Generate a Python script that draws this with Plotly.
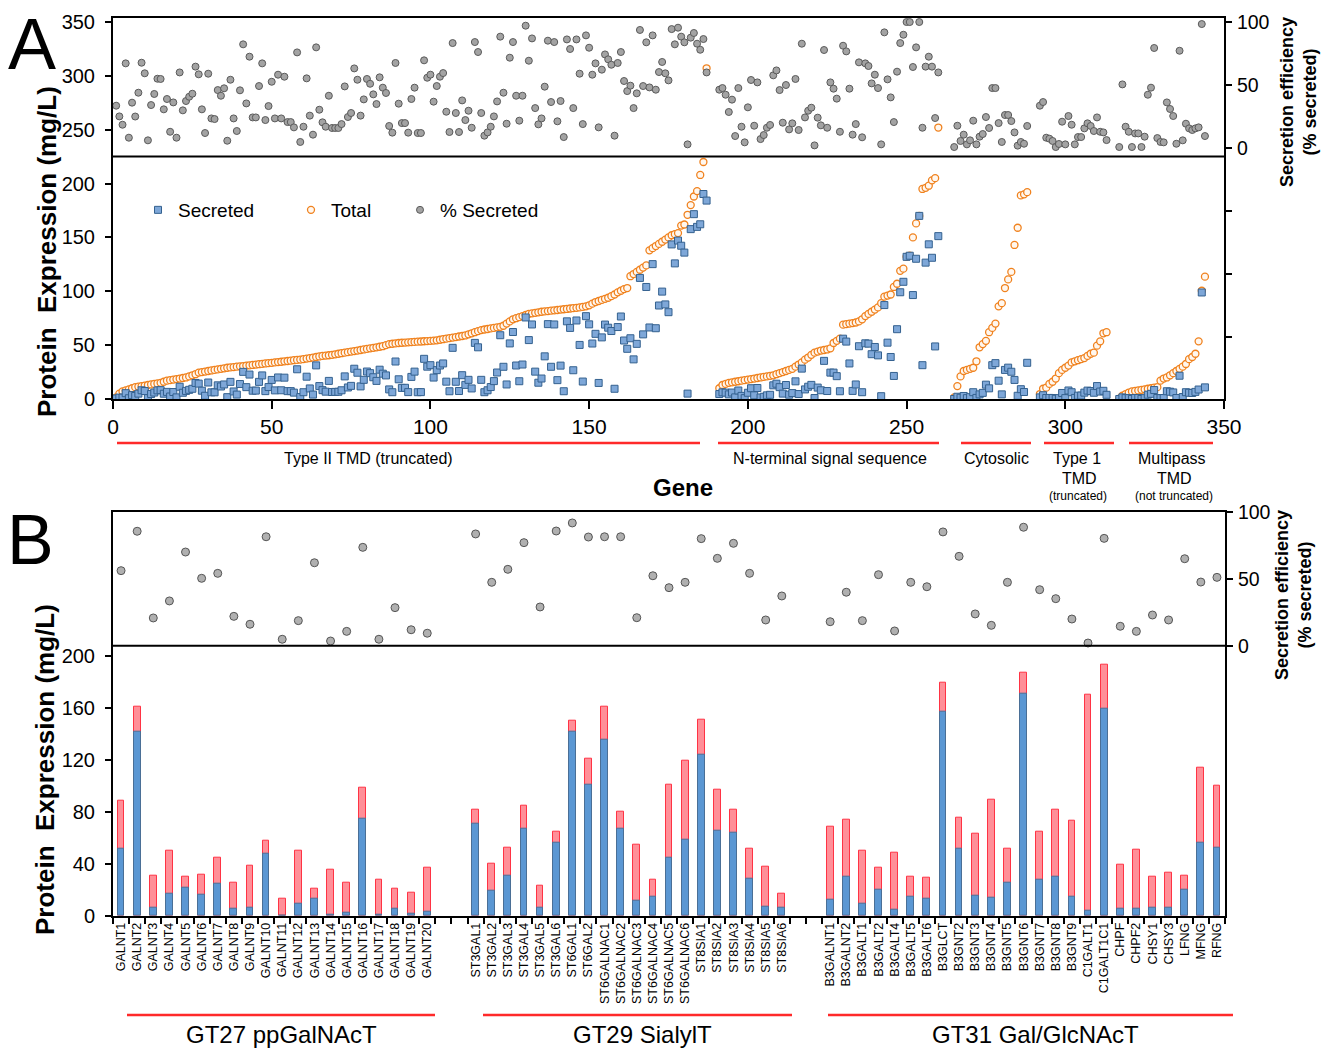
import plotly.graph_objects as go

W, H = 1332, 1048
def X(p): return p / W
def Y(p): return 1 - p / H

# ---------------- Panel A data ----------------
typeII_start = 1
typeII_total = [1.5, 5, 7, 8, 9, 10, 11, 11.5, 12, 12.5,
 13, 13.5, 14, 14.5, 15, 16, 17, 17.5, 18, 18.5,
 19, 19.5, 20, 21, 22, 23, 24.5, 25, 25.5, 26,
 26.5, 27, 27.5, 28, 28.5, 29, 29.3, 29.6, 30, 30.3,
 30.6, 31, 31.3, 31.6, 32, 32.3, 32.6, 33, 33.3, 33.6,
 34, 34.3, 34.6, 35, 35.3, 35.6, 36, 36.3, 36.6, 37,
 37.5, 38, 38.5, 39, 39.5, 40, 40.3, 40.6, 41, 41.5,
 42, 42.5, 43, 43.5, 44, 44.5, 45, 45.5, 46, 46.5,
 47, 47.5, 48, 48.5, 49, 50, 51, 51.3, 51.6, 52,
 52.2, 52.4, 52.6, 52.8, 53, 53.2, 53.4, 53.6, 53.8, 54,
 54.2, 54.5, 55, 55.5, 56, 56.5, 57, 57.5, 58, 58.5,
 59, 60, 61, 62, 63, 64, 64.5, 65, 65.5, 66,
 66.5, 67, 68, 70, 72, 74, 75, 76, 77, 78,
 79, 79.5, 80, 80.5, 81, 81.3, 81.6, 82, 82.3, 82.6,
 83, 83.3, 83.6, 84, 84.3, 84.6, 85, 85.5, 86, 87,
 88.5, 90, 91, 92, 93, 94, 95.5, 97, 99, 100.5,
 102, 103, 114, 116, 118, 120, 122, 124, 138, 140,
 142, 144, 146, 148, 150, 152, 153, 154, 161, 162,
 171, 180, 188, 193, 208, 220, 307]
typeII_secreted = [0.5, 1.3, 1.3, 5.4, 0.7, 3.6, 2.8, 5.0, 8.1, 7.4,
 0.8, 4.6, 6.0, 8.0, 8.2, 4.9, 6.6, 2.3, 6.5, 1.5,
 11.4, 5.8, 7.5, 8.5, 9.5, 14.9, 14.3, 7.7, 3.0, 15.3,
 6.2, 6.2, 12.7, 11.6, 13.5, 1.7, 15.9, 7.0, 4.1, 13.9,
 25.2, 11.0, 22.7, 7.7, 7.8, 15.9, 21.9, 7.3, 11.1, 17.7,
 8.0, 20.0, 8.1, 19.8, 7.3, 7.3, 5.9, 27.6, 1.8, 6.3,
 20.7, 9.8, 4.1, 31.2, 12.0, 8.2, 6.8, 16.8, 6.5, 6.6,
 6.7, 8.1, 21.0, 10.7, 12.2, 28.1, 24.4, 11.7, 17.8, 25.5,
 24.0, 20.2, 16.8, 27.2, 23.5, 21.9, 8.9, 6.3, 34.8, 18.3,
 10.3, 10.4, 6.4, 20.5, 25.4, 6.3, 6.4, 37.3, 30.0, 31.4,
 19.9, 26.8, 31.1, 33.0, 16.1, 7.2, 47.5, 16.0, 7.4, 22.1,
 13.1, 17.8, 9.8, 52.1, 48.0, 17.8, 6.3, 8.1, 11.1, 16.6,
 24.6, 59.2, 29.9, 13.5, 51.6, 62.2, 31.1, 16.5, 32.0, 75.7,
 54.7, 69.2, 25.4, 15.1, 19.0, 39.6, 69.5, 29.9, 69.2, 17.5,
 31.0, 7.2, 72.1, 66.0, 26.7, 72.9, 50.2, 16.2, 76.9, 69.3,
 51.5, 60.5, 14.9, 57.2, 69.1, 66.2, 63.1, 9.5, 66.8, 76.6,
 54.3, 46.6, 56.4, 36.8, 51.2, 112.4, 60.0, 104.0, 66.4, 125.2,
 65.7, 86.8, 99.7, 87.8, 80.6, 143.5, 125.9, 147.1, 142.3, 135.9,
 5.0, 157.7, 171.6, 159.8, 162.2, 190.3, 184.2]
typeII_pct = [33.6, 25.1, 18.5, 67.2, 8.2, 36, 25, 43.9, 67.7, 59.3,
 6.1, 34.1, 42.9, 55, 54.8, 30.7, 38.9, 12.9, 36.2, 8.2,
 60, 29.9, 37.3, 40.7, 43.1, 64.6, 58.5, 30.7, 11.9, 59,
 23.5, 23, 46, 41.5, 47.4, 5.8, 54.2, 23.5, 13.5, 45.8,
 82.3, 35.4, 72.5, 24.3, 24.3, 49.2, 67.2, 22.2, 33.3, 52.6,
 23.5, 58.2, 23.5, 56.6, 20.6, 20.6, 16.4, 75.9, 4.8, 16.9,
 55.3, 25.7, 10.6, 79.9, 30.4, 20.4, 16.9, 41.5, 15.9, 15.9,
 15.9, 19, 48.9, 24.6, 27.8, 63.2, 54.2, 25.7, 38.6, 54.8,
 51, 42.6, 34.9, 56.1, 47.9, 43.7, 17.5, 12.2, 67.5, 35.2,
 19.8, 19.8, 12.2, 38.9, 47.9, 11.9, 11.9, 69.6, 55.8, 58.2,
 36.8, 49.2, 56.6, 59.5, 28.8, 12.7, 83.3, 27.8, 12.7, 37.8,
 22.2, 29.6, 16.1, 84.1, 76.2, 27.8, 9.8, 12.4, 16.9, 25.1,
 37, 88.4,
 43.9, 19.3, 71.7, 84.1, 41.5, 21.7, 41.5, 97.1, 69.3, 87,
 31.7, 18.8, 23.5, 48.7, 85.2, 36.5, 84.1, 21.2, 37.3, 8.7,
 86.2, 78.6, 31.7, 86.2, 59, 19, 89.4, 79.6, 58.2, 67.2,
 16.4, 62.2, 74.3, 70.4, 66.1, 9.8, 67.5, 76.2, 53.2, 45.2,
 49.5, 31.7, 43.4, 93.7, 49.2, 83.9, 48.1, 89.4, 46.3, 60.3,
 68.3, 59.3, 53.7, 94.4, 82.3, 95.5, 88.4, 83.9, 2.9, 87.6,
 91.3, 82.8, 78, 86.5, 60]

nterm_start = 191
nterm_total = [10, 13, 14, 15, 15.5, 16, 16.5, 17, 17.5, 18,
 18.5, 19, 19.5, 20, 20.5, 21, 21.5, 22, 23, 24,
 25, 26, 27, 28, 30, 32, 34, 36.5, 38.5, 41,
 43, 44, 45, 45.5, 46, 47, 52, 54, 56, 69,
 69.5, 70, 70.5, 71, 72, 74, 77, 79, 81, 83,
 85, 89, 95, 96, 97, 104, 107, 119, 121, 132,
 133, 150, 163, 170, 195, 196, 198, 203, 205, 252]
nterm_secreted = [4.6, 6.2, 5.9, 4.3, 6.0, 1.5, 7.9, 2.9, 0.8, 5.8,
 10.0, 3.4, 10.2, 1.4, 2.1, 3.4, 3.9, 12.7, 14.2, 11.0,
 5.0, 13.0, 4.0, 5.5, 16.4, 4.6, 28.2, 8.9, 11.4, 13.1,
 0.9, 10.6, 8.1, 35.4, 7.4, 24.5, 24.5, 21.2, 7.2, 56.0,
 53.3, 33.0, 7.5, 13.5, 49.0, 6.3, 51.7, 51.4, 41.6, 48.3,
 40.5, 2.6, 87.2, 52.3, 39.0, 21.4, 64.8, 99.1, 108.8, 132,
 133, 96.5, 130.2, 170, 31.4, 126.6, 143.6, 131.1, 48.8, 151.2]
nterm_pct = [46.3, 47.6, 42.3, 28.6, 38.4, 9.5, 47.6, 16.9, 4.5, 32.3,
 54, 17.7, 52.1, 7.1, 10.3, 16.1, 18.3, 57.7, 61.6, 46,
 20.1, 50, 14.8, 19.6, 54.8, 14.3, 82.8, 24.3, 29.6, 32,
 2.1, 24.1, 18, 77.8, 16.1, 52.1, 47.1, 39.2, 12.9, 81.2,
 76.7, 47.1, 10.6, 19, 68, 8.5, 67.2, 65.1, 51.3, 58.2,
 47.6, 2.9, 91.8, 54.5, 40.2, 20.6, 60.6, 83.3, 89.9, 100,
 100, 64.3, 79.9, 100, 16.1, 64.6, 72.5, 64.6, 23.8, 60]

cyto_start = 265
cyto_total = [1.5, 12, 21, 26, 27, 28, 29, 35, 48, 51, 54, 62, 66, 70, 86, 89,
              103, 111, 118, 143, 159, 189, 190, 192]
cyto_secreted = [0.0, 2.1, 1.2, 2.8, 0.8, 1.7, 6.3, 1.0, 4.3, 5.7, 13.3, 9.9, 31.4,
                 33.3, 17.0, 4.3, 27.0, 29.1, 25.3, 17.7, 3.0, 9.1, 6.5, 33.6]
cyto_pct = [0.8, 17.7, 5.6, 10.6, 2.9, 6.1, 21.7, 2.9, 9, 11.1, 24.6, 15.9, 47.6,
            47.6, 19.8, 4.8, 26.2, 26.2, 21.4, 12.4, 1.9, 4.8, 3.4, 17.5]

type1_start = 292
type1_total = [4.6, 9.5, 10.5, 14, 16, 19, 24, 27, 29, 31, 34, 35, 36, 37, 38, 40,
               42, 43, 49.5, 53.5, 61, 62]
type1_secreted = [1.5, 3.5, 0.9, 1.0, 0.9, 0.2, 0.8, 5.6, 0.8, 7.9, 6.3, 1.0, 3.1,
                  3.2, 5.9, 7.8, 7.4, 5.8, 12.0, 6.9, 7.6, 3.9]
type1_pct = [33.6, 36.5, 8.2, 7.4, 5.6, 0.8, 3.2, 20.9, 2.9, 25.4, 18.5, 2.9, 8.7,
             8.7, 15.6, 19.6, 17.5, 13.5, 24.3, 12.9, 12.4, 6.3]

multi_start = 317
multi_total = [0.3, 3, 4.5, 6, 7, 7.5, 8, 8.5, 9, 9.5, 10, 10.5, 11, 17, 19, 20, 22,
               24, 26, 28, 30, 32.5, 37, 39, 42, 53.5, 100.5, 113.6]
multi_secreted = [0.0, 1.5, 0.8, 0.8, 0.1, 0.9, 0.9, 0.1, 0.8, 4.0, 4.8, 8.3, 0.9,
                  0.8, 0.9, 7.2, 6.8, 6.1, 0.9, 21.6, 1.8, 6.3, 5.8, 5.6, 6.6, 8.8,
                  98.9, 10.8]
multi_pct = [0.8, 50.5, 16.9, 12.9, 0.8, 11.6, 11.6, 0.8, 9, 42.3, 47.9, 79.4, 7.9,
             4.8, 4.5, 36.2, 31, 25.4, 3.4, 77.2, 6.1, 19.3, 15.6, 14.3, 15.6, 16.4,
             98.4, 9.5]

a_xticks = [0, 50, 100, 150, 200, 250, 300, 350]
a_yticks = [0, 50, 100, 150, 200, 250, 300, 350]

# ---------------- Panel B data ----------------
gt27_genes = ["GALNT%d" % i for i in range(1, 21)]
gt27_total = [88.5, 160.5, 30.8, 49.8, 30, 31.3, 44.4, 25.7, 38.2, 57.5, 13.4, 49.8,
              21, 35.4, 25.4, 98.5, 27.7, 20.5, 17.5, 37.2]
gt27_secreted = [51.3, 141.8, 6.4, 17.2, 21.8, 16.4, 24.6, 5.7, 6.4, 48, 0.3, 9.5,
                 13.4, 1, 2.6, 74.6, 1, 5.7, 1.8, 3]
gt27_pct = [56, 85.4, 20.7, 33.4, 69.9, 50.3, 54, 21.9, 16, 81.3, 4.8, 18.7, 61.9,
            3.5, 10.7, 73.4, 4.8, 28.4, 11.9, 9.3]

gt29_genes = ["ST3GAL1", "ST3GAL2", "ST3GAL3", "ST3GAL4", "ST3GAL5", "ST3GAL6",
              "ST6GAL1", "ST6GAL2", "ST6GALNAC1", "ST6GALNAC2", "ST6GALNAC3",
              "ST6GALNAC4", "ST6GALNAC5", "ST6GALNAC6", "ST8SIA1", "ST8SIA2",
              "ST8SIA3", "ST8SIA4", "ST8SIA5", "ST8SIA6"]
gt29_total = [81.8, 39.8, 52.3, 84.9, 23.4, 64.4, 150.3, 120.8, 161, 80.3, 54.4, 27.7,
              100.8, 119.5, 150.8, 97.2, 81.8, 51.3, 37.7, 17.2]
gt29_secreted = [70.5, 19.2, 30.8, 67.2, 6.4, 56.5, 141.6, 100.5, 135.2, 67.2, 11.5,
                 14.6, 44.9, 58.5, 124.2, 65.4, 64.2, 28.5, 7.2, 6.4]
gt29_pct = [83.4, 47.3, 57, 76.9, 28.9, 85.6, 91.6, 81.1, 81.3, 81.3, 20.9, 52.2,
            43.3, 47.3, 79.9, 65.2, 76.4, 54, 19.2, 37.1]

gt31_genes = ["B3GALNT1", "B3GALNT2", "B3GALT1", "B3GALT2", "B3GALT4", "B3GALT5",
              "B3GALT6", "B3GLCT", "B3GNT2", "B3GNT3", "B3GNT4", "B3GNT5", "B3GNT6",
              "B3GNT7", "B3GNT8", "B3GNT9", "C1GALT1", "C1GALT1C1", "CHPF", "CHPF2",
              "CHSY1", "CHSY3", "LFNG", "MFNG", "RFNG"]
gt31_total = [68.8, 73.9, 49.8, 36.9, 48.5, 30.3, 29.2, 179.2, 75.7, 63.4, 89, 51.8,
              187.2, 64.4, 81.3, 73.1, 169.8, 192.8, 39, 50.5, 30, 33.4, 30.5, 113.6,
              100.3]
gt31_secreted = [12.6, 30, 9.5, 20.3, 4.9, 14.6, 13.1, 157.2, 51.5, 15.2, 14.2, 25.4,
                 170.8, 27.5, 29.8, 14.9, 3.9, 159, 5.4, 5.4, 6.4, 6.4, 20.3, 55.9,
                 52.6]
gt31_pct = [17.9, 39.9, 18.7, 53, 11, 47.3, 44, 84.9, 66.7, 23.7, 15.2, 47.3, 88.4,
            41.8, 35.1, 19.9, 2, 80.1, 14.5, 10.7, 22.9, 19.2, 64.9, 47.5, 51]

b_yticks = [0, 40, 80, 120, 160, 200]
b_rticks = [0, 50, 100]

# ---------------- build ----------------
def xs(start, arr):
    return list(range(start, start + len(arr)))

groupsA = [(typeII_start, typeII_total, typeII_secreted, typeII_pct),
           (nterm_start, nterm_total, nterm_secreted, nterm_pct),
           (cyto_start, cyto_total, cyto_secreted, cyto_pct),
           (type1_start, type1_total, type1_secreted, type1_pct),
           (multi_start, multi_total, multi_secreted, multi_pct)]
gx, gtot, gsec, gpct = [], [], [], []
for s, t, se, p in groupsA:
    gx += xs(s, t); gtot += t; gsec += se; gpct += p

FONT = "Liberation Sans, Arial, Helvetica, sans-serif"
fig = go.Figure()

fig.add_trace(go.Scatter(x=gx, y=gtot, mode="markers", name="Total",
    marker=dict(symbol="circle", size=7, color="#fff7ef",
                line=dict(color="#f0821e", width=1.3)),
    xaxis="x", yaxis="y", legend="legend2"))
fig.add_trace(go.Scatter(x=gx, y=gsec, mode="markers", name="Secreted",
    marker=dict(symbol="square", size=7, color="#7ea7d8",
                line=dict(color="#34618f", width=1)),
    xaxis="x", yaxis="y", legend="legend"))
fig.add_trace(go.Scatter(x=gx, y=gpct, mode="markers", name="% Secreted",
    marker=dict(symbol="circle", size=7, color="#a3a3a3",
                line=dict(color="#5a5a5a", width=1)),
    xaxis="x", yaxis="y2", legend="legend3"))

gap1 = [" ", "  "]
gap2 = ["   ", "    "]
cats = gt27_genes + gap1 + gt29_genes + gap2 + gt31_genes
b_genes = gt27_genes + gt29_genes + gt31_genes
b_total = gt27_total + gt29_total + gt31_total
b_sec = gt27_secreted + gt29_secreted + gt31_secreted
b_pct = gt27_pct + gt29_pct + gt31_pct

fig.add_trace(go.Bar(x=b_genes, y=b_total, width=0.42, showlegend=False,
    marker=dict(color="#ff8f98", line=dict(color="#ff3344", width=1)),
    xaxis="x2", yaxis="y3"))
fig.add_trace(go.Bar(x=b_genes, y=b_sec, width=0.42, showlegend=False,
    marker=dict(color="#5b97d3", line=dict(color="#4a6f96", width=1)),
    xaxis="x2", yaxis="y3"))
fig.add_trace(go.Scatter(x=b_genes, y=b_pct, mode="markers", showlegend=False,
    marker=dict(symbol="circle", size=8, color="#b0b0b0",
                line=dict(color="#555555", width=1)),
    xaxis="x2", yaxis="y4"))

axline = dict(showline=True, linewidth=2, linecolor="black", showgrid=False,
              zeroline=False, ticks="outside", tickwidth=2, tickcolor="black",
              automargin=False)

shapes = []
def hline(x0, x1, y, color="black", width=2):
    shapes.append(dict(type="line", xref="paper", yref="paper", x0=X(x0), x1=X(x1),
                       y0=Y(y), y1=Y(y), line=dict(color=color, width=width)))

# separators
hline(113, 1224, 156.5)
hline(113, 1225, 645.7)
# group underline bars
for a, b in [(117, 700), (718, 939), (961, 1031), (1044, 1114), (1129, 1213)]:
    hline(a, b, 443, color="#ff2a2a", width=2.5)
for a, b in [(127, 435), (483, 792), (828, 1233)]:
    hline(a, b, 1015, color="#ff2a2a", width=2.5)

ann = []
def text(t, x, y, size, bold=False, angle=0, xanchor="center", yanchor="middle"):
    ann.append(dict(text=("<b>%s</b>" % t) if bold else t, x=X(x), y=Y(y),
                    xref="paper", yref="paper", showarrow=False, textangle=angle,
                    xanchor=xanchor, yanchor=yanchor,
                    font=dict(size=size, family=FONT, color="black")))

text("A", 32, 44, 72)
text("B", 30, 540, 70)
text("Type II TMD (truncated)", 368, 459, 16)
text("N-terminal signal sequence", 830, 459, 16)
text("Cytosolic", 996, 459, 16)
text("Type 1", 1077, 459, 16)
text("TMD", 1079, 478, 16)
text("(truncated)", 1078, 496, 12)
text("Multipass", 1172, 459, 16)
text("TMD", 1174, 478, 16)
text("(not truncated)", 1174, 496, 12)
text("Gene", 683, 487, 24, bold=True)
text("Protein\u00a0 Expression (mg/L)", 47, 252, 26, bold=True, angle=-90)
text("Protein\u00a0 Expression (mg/L)", 45, 770, 26, bold=True, angle=-90)
text("Secretion efficiency<br>(% secreted)", 1299, 102, 18, bold=True, angle=-90)
text("Secretion efficiency<br>(% secreted)", 1293, 595, 18, bold=True, angle=-90)
text("GT27 ppGalNAcT", 281, 1034, 24)
text("GT29 SialylT", 642, 1034, 24)
text("GT31 Gal/GlcNAcT", 1035, 1034, 24)

legend_common = dict(orientation="h", yanchor="middle", xanchor="left",
                     bgcolor="rgba(0,0,0,0)", font=dict(size=19, family=FONT))

fig.update_layout(
    template="none",
    width=W, height=H, margin=dict(l=0, r=0, t=0, b=0, autoexpand=False),
    paper_bgcolor="white", plot_bgcolor="white",
    font=dict(family=FONT, color="black"),
    barmode="overlay", bargap=0,
    shapes=shapes, annotations=ann,
    legend=dict(x=X(138), y=Y(210), **legend_common),
    legend2=dict(x=X(291), y=Y(210), **legend_common),
    legend3=dict(x=X(400), y=Y(210), **legend_common),
    xaxis=dict(domain=[X(113), X(1224)], range=[0, 350], tickvals=a_xticks,
               anchor="y", mirror=True, ticklen=8, ticklabelstandoff=0,
               tickfont=dict(size=21), **axline),
    yaxis=dict(domain=[Y(399), Y(18)], range=[0, 353.7], tickvals=a_yticks,
               anchor="x", mirror=True, ticklen=6, ticklabelstandoff=6,
               tickfont=dict(size=20), **axline),
    yaxis2=dict(overlaying="y", side="right", anchor="x", range=[-199.2, 103.2],
                tickvals=[-200, -150, -100, -50, 0, 50, 100],
                ticktext=["", "", "", "", "0", "50", "100"],
                ticklen=6, ticklabelstandoff=1, tickfont=dict(size=19.5), **axline),
    xaxis2=dict(domain=[X(113), X(1225)], type="category", categoryorder="array",
                categoryarray=cats, tickvals=cats, range=[-0.5, 68.5],
                tickson="boundaries", tickangle=-90, anchor="y3", mirror=True,
                ticklen=6, tickfont=dict(size=12.5), **axline),
    yaxis3=dict(domain=[Y(915.7), Y(511.7)], range=[0, 310.8], tickvals=b_yticks,
                anchor="x2", mirror=True, ticklen=6, ticklabelstandoff=6,
                tickfont=dict(size=20), **axline),
    yaxis4=dict(overlaying="y3", side="right", anchor="x2", range=[-201.5, 100],
                tickvals=b_rticks, ticklen=6, ticklabelstandoff=1,
                tickfont=dict(size=19.5), **axline),
)

fig.write_html("out.html", config={"displayModeBar": False},
               post_script="document.body.style.margin='0';document.body.style.overflow='hidden';")
